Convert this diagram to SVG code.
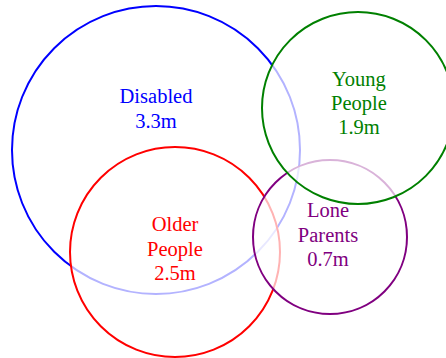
<svg xmlns="http://www.w3.org/2000/svg" width="446" height="358" viewBox="0 0 446 358">
<style>
.c{fill:#fff;fill-opacity:0.7;stroke-width:2}
.t{font-family:'Liberation Serif','Times New Roman',Times,serif;font-size:20.5px;text-anchor:middle}
</style>
<rect width="446" height="358" fill="#fff"/>
<g id="disabled">
<circle class="c" cx="156" cy="150" r="144" stroke="#0000ff"/>
<text class="t" fill="#0000ff" font-family="Liberation Serif, serif"><tspan x="156" y="103">Disabled</tspan><tspan x="156" y="128">3.3m</tspan></text>
</g>
<g id="older">
<circle class="c" cx="175" cy="252" r="105" stroke="#ff0000"/>
<text class="t" fill="#ff0000" font-family="Liberation Serif, serif"><tspan x="175" y="231">Older</tspan><tspan x="175" y="256">People</tspan><tspan x="175" y="280">2.5m</tspan></text>
</g>
<g id="lone">
<circle class="c" cx="330" cy="237" r="77" stroke="#800080"/>
<text class="t" fill="#800080" font-family="Liberation Serif, serif"><tspan x="328" y="217">Lone</tspan><tspan x="328" y="242">Parents</tspan><tspan x="328" y="266">0.7m</tspan></text>
</g>
<g id="young">
<circle class="c" cx="358" cy="108" r="96" stroke="#008000"/>
<text class="t" fill="#008000" font-family="Liberation Serif, serif"><tspan x="359" y="86">Young</tspan><tspan x="359" y="110">People</tspan><tspan x="359" y="134">1.9m</tspan></text>
</g>
<g id="connectors"/>
</svg>
